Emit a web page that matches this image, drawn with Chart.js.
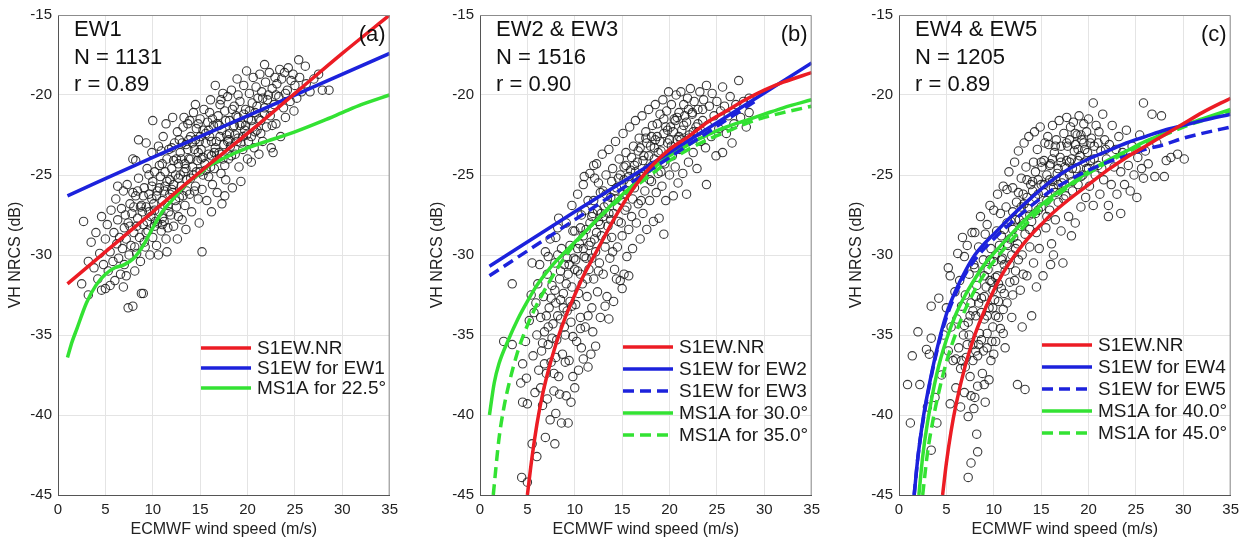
<!DOCTYPE html>
<html>
<head>
<meta charset="utf-8">
<script src="https://cdn.jsdelivr.net/npm/chart.js@4.4.1/dist/chart.umd.min.js"></script>
<style>
  body { margin: 0; background: #fff; width: 1253px; height: 542px; position: relative; overflow: hidden; }
  canvas { position: absolute; top: 0; }
</style>
</head>
<body>
<canvas id="chartA" width="404" height="542" style="left:0px"></canvas>
<canvas id="chartB" width="404" height="542" style="left:422px"></canvas>
<canvas id="chartC" width="404" height="542" style="left:841px"></canvas>
<script>
// axis ticks
const windTicks = [0, 5, 10, 15, 20, 25, 30, 35];
const nrcsTicks = [-45, -40, -35, -30, -25, -20, -15];

// ---- panel (a) EW1 ----
const nrA = [[1,-31.8],[5,-29.8],[10,-27.3],[15,-24.8],[20,-22.4],[25,-19.9],[30,-17.4],[35,-15.0]];
const ew1A = [[1,-26.3],[10,-23.9],[20,-21.3],[35,-17.4]];
const ms225A = [[1,-36.4],[1.5,-35.4],[2,-34.6],[3,-33.0],[4,-31.9],[5,-31.2],[6,-30.8],[7,-30.6],[8,-30.2],[9,-29.4],[10,-28.3],[11,-27.3],[12,-26.6],[13,-25.9],[14,-25.3],[15,-24.9],[16,-24.4],[17,-24.1],[18,-23.8],[20,-23.3],[22,-22.9],[25,-22.3],[28,-21.6],[30,-21.1],[32,-20.6],[35,-20.0]];
const ptsA = [[2.5,-31.8],[2.7,-27.9],[3.2,-30.4],[3.2,-32.5],[3.5,-29.2],[3.8,-30.8],[4.0,-28.6],[4.2,-31.5],[4.4,-29.9],[4.6,-27.6],[4.8,-30.6],[5.0,-32.1],[5.0,-29.0],[5.2,-28.1],[5.3,-31.0],[5.5,-29.8],[5.6,-27.2],[5.8,-30.4],[5.9,-28.6],[6.0,-31.6],[6.1,-26.5],[6.2,-29.3],[6.3,-27.8],[6.4,-30.2],[6.5,-28.9],[6.6,-31.2],[6.7,-27.1],[6.8,-29.6],[6.9,-26.0],[7.0,-28.3],[7.0,-30.6],[7.1,-27.5],[7.2,-29.0],[7.3,-25.6],[7.4,-33.3],[7.4,-28.0],[7.5,-30.0],[7.6,-26.8],[7.7,-29.4],[7.8,-27.4],[7.9,-33.2],[7.9,-24.0],[8.0,-28.6],[8.1,-31.0],[8.2,-24.1],[8.2,-26.3],[8.3,-29.9],[8.4,-27.7],[8.5,-25.2],[8.6,-28.9],[8.7,-30.4],[8.8,-32.4],[8.8,-26.9],[9.0,-32.4],[9.0,-28.1],[9.1,-25.8],[9.2,-29.5],[9.3,-27.0],[9.4,-24.6],[9.5,-28.5],[9.6,-26.2],[9.7,-30.0],[9.8,-27.6],[9.9,-23.6],[10.0,-25.4],[10.0,-28.9],[10.1,-26.8],[10.2,-24.8],[10.3,-27.9],[10.4,-29.4],[10.5,-26.0],[10.6,-23.2],[10.7,-27.3],[10.8,-25.1],[10.9,-28.5],[11.0,-24.3],[11.0,-26.6],[11.1,-22.6],[11.2,-27.9],[11.3,-25.7],[11.4,-29.0],[11.5,-24.0],[11.6,-26.9],[11.7,-23.4],[11.8,-25.3],[11.9,-27.5],[12.0,-24.6],[12.1,-21.4],[12.1,-26.1],[12.2,-28.2],[12.3,-23.0],[12.4,-25.0],[12.5,-27.0],[12.6,-22.3],[12.7,-24.3],[12.8,-26.4],[12.9,-23.6],[13.0,-25.7],[13.1,-27.8],[13.2,-22.0],[13.3,-21.4],[13.3,-24.8],[13.4,-26.9],[13.5,-23.1],[13.6,-25.3],[13.7,-21.8],[13.8,-24.0],[13.9,-26.2],[14.0,-22.6],[14.1,-27.3],[14.2,-24.5],[14.3,-21.1],[14.4,-23.4],[14.5,-20.6],[14.5,-25.7],[14.6,-22.1],[14.7,-24.1],[14.8,-26.5],[14.9,-22.9],[15.0,-21.5],[15.0,-24.8],[15.1,-23.4],[15.2,-29.8],[15.2,-25.9],[15.3,-22.2],[15.4,-20.9],[15.5,-24.3],[15.6,-23.0],[15.7,-26.6],[15.8,-21.7],[15.9,-25.1],[16.0,-22.6],[16.1,-20.3],[16.2,-23.8],[16.3,-25.6],[16.4,-21.9],[16.5,-24.6],[16.6,-19.4],[16.7,-22.9],[16.8,-26.1],[16.9,-21.3],[17.0,-23.6],[17.1,-20.6],[17.2,-24.9],[17.3,-26.8],[17.3,-22.2],[17.4,-19.9],[17.5,-23.1],[17.6,-21.0],[17.7,-25.3],[17.8,-22.5],[17.9,-20.1],[18.0,-24.0],[18.1,-21.6],[18.2,-23.2],[18.3,-19.7],[18.4,-25.8],[18.5,-22.0],[18.6,-20.7],[18.7,-23.7],[18.8,-21.3],[18.9,-19.0],[19.0,-22.7],[19.1,-24.5],[19.2,-20.4],[19.3,-25.4],[19.4,-21.8],[19.5,-23.4],[19.6,-19.4],[19.7,-22.2],[19.8,-20.9],[19.9,-18.5],[20.0,-24.0],[20.1,-21.5],[20.2,-19.9],[20.4,-24.2],[20.4,-22.6],[20.5,-20.5],[20.6,-18.9],[20.7,-23.3],[20.8,-21.1],[20.9,-19.5],[21.0,-22.2],[21.1,-20.2],[21.2,-23.7],[21.3,-18.7],[21.4,-21.6],[21.5,-19.8],[21.6,-22.9],[21.8,-18.1],[21.8,-20.8],[21.9,-19.2],[22.0,-22.0],[22.1,-20.3],[22.3,-18.6],[22.4,-21.3],[22.5,-23.3],[22.6,-19.6],[22.7,-23.6],[22.8,-20.6],[22.9,-18.9],[23.0,-21.8],[23.1,-19.3],[23.3,-20.1],[23.4,-18.4],[23.5,-22.6],[23.6,-19.0],[23.8,-20.8],[23.9,-18.6],[24.0,-21.4],[24.2,-19.7],[24.3,-18.3],[24.5,-20.4],[24.6,-19.1],[24.8,-18.7],[24.9,-21.0],[25.0,-19.4],[25.2,-20.2],[25.4,-17.8],[25.5,-18.9],[25.7,-19.8],[26.1,-18.2],[26.2,-19.3],[26.6,-19.8],[27.0,-19.0],[27.5,-18.7],[27.9,-19.7],[28.6,-19.7],
  [8.0,-27.0],[8.4,-26.0],[8.9,-27.3],[9.1,-29.2],[9.4,-27.9],[9.6,-25.0],[9.9,-26.5],[10.2,-27.2],[10.5,-28.0],[10.7,-24.4],[11.0,-27.7],[11.3,-24.8],[11.6,-28.3],[11.8,-26.2],[12.0,-23.3],[12.2,-25.6],[12.5,-24.0],[12.7,-27.6],[12.9,-25.0],[13.1,-23.0],[13.4,-24.3],[13.6,-26.0],[13.8,-22.8],[14.0,-25.2],[14.2,-23.0],[14.4,-26.0],[14.6,-24.8],[14.8,-21.8],[15.1,-24.0],[15.3,-25.0],[15.6,-22.4],[15.9,-23.7],[16.1,-24.5],[16.3,-21.5],[16.6,-23.3],[16.8,-24.0],[17.0,-21.9],[17.3,-23.7],[17.6,-24.4],[17.9,-22.9],[18.1,-22.4],[18.4,-20.9],[18.7,-22.5],[19.0,-21.4],[19.3,-23.0],[19.6,-21.2],[19.9,-22.5],[20.2,-21.0],[20.6,-22.0],[21.0,-20.7],[21.4,-22.4],[21.8,-21.2],[22.2,-20.0],[22.6,-21.9],[7.2,-31.3],[6.3,-25.7],[5.5,-31.9],[4.6,-32.2],[6.9,-32.0],[10.6,-30.0],[11.5,-29.8],[12.6,-29.0],[13.5,-28.4],[16.2,-27.3],[17.6,-26.3],[14.9,-28.0],[8.5,-22.8],[10.0,-21.6],[9.3,-23.0],[11.4,-21.8],
  [8.3,-28.2],[8.7,-27.0],[9.0,-26.3],[9.3,-28.6],[9.6,-27.3],[9.9,-25.7],[10.2,-28.2],[10.4,-26.3],[10.7,-25.8],[11.0,-28.1],[11.2,-26.0],[11.5,-25.4],[11.7,-27.3],[12.0,-25.9],[12.2,-24.1],[12.4,-26.6],[12.7,-25.2],[13.0,-24.0],[13.2,-26.3],[13.5,-24.6],[13.7,-23.4],[14.0,-24.0],[14.3,-25.0],[14.5,-22.8],[14.8,-23.6],[15.0,-22.6],[15.3,-23.9],[15.6,-24.7],[15.9,-22.2],[16.2,-22.9],[16.5,-23.6],[16.8,-21.8],[17.1,-22.6],[17.4,-24.0],[17.7,-21.6],[18.0,-22.8],[18.3,-23.8],[18.6,-21.9],[18.9,-22.9],[19.2,-21.9],[19.5,-22.6],[19.8,-21.9],[20.1,-22.9],[20.4,-21.6],[20.8,-22.3],[21.2,-21.5],[7.6,-28.2],[7.9,-26.1],[8.1,-29.5],[10.9,-23.5],[12.8,-22.8],[13.9,-21.6],[16.0,-21.1],[17.2,-20.3],[19.0,-20.0],[21.6,-20.2],[23.0,-20.0],[24.0,-19.9]];

// ---- panel (b) EW2 & EW3 ----
const nrB = [[5,-45],[5.5,-42.6],[6,-40.6],[6.5,-39.0],[7,-37.7],[8,-35.6],[9,-33.9],[10,-32.5],[11,-31.2],[12,-30.1],[13,-29.0],[14,-27.9],[15,-26.9],[16,-26.0],[17,-25.2],[18,-24.5],[20,-23.4],[22,-22.6],[24,-21.7],[26,-21.0],[28,-20.3],[30,-19.7],[32,-19.2],[35,-18.6]];
const ew2B = [[1,-30.7],[10,-27.3],[20,-23.6],[35,-18.0]];
const ew3B = [[1,-31.3],[10,-27.8],[20,-23.9],[29,-20.4]];
const ms30B = [[1,-40],[1.5,-38.0],[2,-36.8],[3,-35.3],[4,-34.0],[5,-32.9],[6,-31.9],[7,-31.1],[8,-30.4],[9,-29.8],[10,-29.2],[12,-28.0],[14,-26.8],[16,-25.7],[18,-24.7],[20,-23.8],[22,-23.1],[24,-22.5],[26,-22.0],[28,-21.6],[30,-21.2],[32,-20.8],[35,-20.3]];
const ms35B = [[1.4,-45],[2,-41.5],[2.5,-39.6],[3,-38.2],[4,-36.0],[5,-34.4],[6,-33.1],[7,-32.0],[8,-31.0],[9,-30.1],[10,-29.3],[12,-28.0],[14,-26.9],[16,-25.9],[18,-25.0],[20,-24.1],[22,-23.4],[24,-22.8],[26,-22.3],[28,-21.8],[30,-21.4],[32,-21.1],[35,-20.7]];
const ptsB = [[2.5,-35.4],[3.4,-31.8],[3.4,-35.6],[4.3,-38.0],[4.4,-43.9],[4.5,-36.8],[4.5,-39.2],[4.8,-35.4],[4.9,-37.7],[5.0,-39.3],[5.0,-44.2],[5.2,-34.1],[5.4,-32.5],[5.5,-41.8],[5.6,-36.3],[5.7,-33.6],[5.8,-38.6],[6.0,-42.6],[6.0,-35.0],[6.1,-31.8],[6.2,-37.2],[6.3,-30.6],[6.4,-33.9],[6.5,-36.0],[6.6,-39.4],[6.7,-32.6],[6.8,-34.8],[6.9,-41.4],[6.9,-29.8],[7.0,-37.4],[7.1,-31.2],[7.2,-35.6],[7.3,-33.3],[7.4,-40.3],[7.4,-29.0],[7.5,-36.7],[7.6,-31.9],[7.7,-34.3],[7.8,-38.5],[7.9,-41.8],[7.9,-30.5],[8.0,-33.0],[8.1,-35.3],[8.2,-28.3],[8.3,-27.7],[8.3,-37.6],[8.4,-31.5],[8.5,-34.0],[8.6,-40.5],[8.6,-29.6],[8.7,-36.2],[8.8,-32.4],[8.9,-30.6],[9.0,-35.0],[9.1,-38.8],[9.1,-28.0],[9.2,-33.5],[9.3,-40.5],[9.3,-31.2],[9.4,-36.6],[9.5,-29.4],[9.6,-34.2],[9.7,-26.9],[9.7,-32.0],[9.8,-37.6],[9.9,-30.2],[10.0,-38.3],[10.0,-28.5],[10.1,-33.1],[10.2,-35.4],[10.3,-26.2],[10.3,-31.0],[10.4,-37.2],[10.5,-29.3],[10.6,-33.9],[10.7,-35.8],[10.7,-27.5],[10.8,-31.8],[10.9,-25.6],[11.0,-30.1],[11.1,-34.5],[11.2,-28.4],[11.3,-32.6],[11.4,-37.0],[11.4,-26.6],[11.5,-30.9],[11.6,-24.9],[11.7,-36.2],[11.7,-29.2],[11.8,-33.3],[11.9,-34.8],[11.9,-27.4],[12.0,-31.5],[12.1,-25.2],[12.2,-29.8],[12.3,-24.3],[12.4,-32.3],[12.5,-27.9],[12.6,-30.5],[12.7,-33.9],[12.7,-26.1],[12.8,-28.8],[12.9,-23.7],[13.0,-31.2],[13.1,-27.0],[13.2,-29.5],[13.3,-25.0],[13.4,-32.6],[13.5,-28.2],[13.6,-34.0],[13.6,-23.4],[13.7,-30.2],[13.8,-26.4],[13.9,-28.9],[14.0,-24.6],[14.1,-32.9],[14.1,-27.4],[14.2,-30.9],[14.3,-22.9],[14.4,-25.8],[14.5,-29.5],[14.6,-27.9],[14.7,-24.0],[14.8,-31.6],[14.9,-26.6],[15.0,-32.1],[15.0,-28.8],[15.1,-22.4],[15.2,-31.2],[15.2,-25.3],[15.3,-27.2],[15.4,-23.6],[15.5,-30.1],[15.6,-26.0],[15.7,-31.3],[15.7,-28.4],[15.8,-22.0],[15.9,-24.7],[16.0,-27.6],[16.1,-29.6],[16.2,-23.2],[16.3,-25.8],[16.4,-21.6],[16.5,-28.0],[16.6,-24.2],[16.7,-26.8],[16.8,-22.7],[16.9,-29.0],[17.0,-25.1],[17.1,-21.3],[17.2,-27.4],[17.3,-23.8],[17.4,-26.0],[17.5,-22.3],[17.6,-28.4],[17.7,-24.6],[17.8,-20.9],[17.9,-26.6],[18.0,-23.2],[18.1,-25.4],[18.2,-21.9],[18.3,-27.9],[18.4,-24.0],[18.5,-20.6],[18.6,-26.1],[18.7,-22.6],[18.8,-24.9],[18.9,-27.7],[19.0,-21.2],[19.1,-23.5],[19.2,-25.7],[19.3,-20.3],[19.4,-28.7],[19.4,-22.4],[19.5,-24.3],[19.6,-26.6],[19.7,-21.0],[19.8,-23.0],[19.9,-19.8],[20.0,-25.0],[20.1,-22.0],[20.2,-20.6],[20.3,-23.8],[20.4,-26.3],[20.5,-21.5],[20.6,-24.5],[20.7,-20.0],[20.8,-22.8],[20.9,-25.5],[21.0,-21.1],[21.1,-23.4],[21.2,-19.8],[21.3,-22.2],[21.4,-24.9],[21.5,-20.6],[21.6,-23.0],[21.8,-26.2],[21.8,-21.7],[21.9,-20.2],[22.0,-24.2],[22.1,-22.5],[22.2,-19.6],[22.4,-21.2],[22.5,-23.6],[22.6,-20.4],[22.8,-22.0],[22.9,-24.6],[23.0,-20.9],[23.2,-19.8],[23.3,-22.9],[23.5,-21.6],[23.6,-20.3],[23.8,-23.3],[23.9,-19.4],[23.9,-25.6],[24.0,-21.9],[24.2,-20.7],[24.4,-22.6],[24.5,-19.9],[24.7,-21.3],[24.9,-23.8],[25.0,-20.4],[25.2,-22.1],[25.4,-21.0],[25.6,-19.5],[25.6,-23.6],[25.8,-20.7],[26.0,-22.4],[26.2,-21.3],[26.4,-20.1],[26.6,-23.0],[26.8,-21.8],[27.0,-20.6],[27.3,-19.1],[27.5,-21.4],[27.8,-20.4],[28.1,-22.0],[28.4,-20.2],[28.4,-21.1],
  [7.0,-33.8],[7.5,-32.7],[8.0,-36.4],[8.2,-30.0],[8.5,-32.8],[8.9,-34.5],[9.2,-30.2],[9.5,-32.9],[9.8,-28.5],[10.1,-30.3],[10.4,-32.4],[10.6,-28.3],[10.9,-29.6],[11.1,-27.2],[11.3,-31.5],[11.6,-28.0],[11.8,-30.2],[12.0,-26.6],[12.3,-28.6],[12.5,-31.0],[12.8,-27.4],[13.0,-26.0],[13.3,-29.0],[13.5,-26.8],[13.8,-27.8],[14.0,-29.8],[14.3,-26.5],[14.6,-25.2],[14.9,-28.0],[15.2,-24.5],[15.5,-27.0],[15.8,-25.5],[16.1,-26.5],[16.4,-24.8],[16.7,-23.5],[17.0,-26.6],[17.3,-25.0],[17.6,-23.0],[17.9,-25.3],[18.2,-24.4],[18.5,-22.8],[18.8,-23.6],[19.1,-24.8],[19.4,-21.5],[19.8,-22.2],[20.2,-23.2],[20.6,-21.6],[21.0,-22.6],[21.5,-21.9],[22.0,-20.9],[22.5,-22.3],[23.0,-21.8],[6.4,-38.3],[7.1,-39.0],[7.8,-37.4],[8.4,-38.7],[5.9,-33.0],[6.6,-35.5],[5.5,-30.5],[9.6,-39.2],[8.0,-39.9],[10.9,-36.5],[12.2,-35.7],[13.2,-33.2],[14.4,-31.5],[12.0,-24.4],[11.0,-25.1],[12.5,-25.5],
  [6.8,-36.8],[7.2,-34.5],[7.6,-35.2],[7.9,-32.2],[8.2,-33.8],[8.5,-31.0],[8.8,-33.3],[9.1,-31.8],[9.4,-30.6],[9.7,-33.2],[10.0,-30.9],[10.3,-29.6],[10.6,-31.2],[10.9,-28.8],[11.2,-30.2],[11.5,-29.4],[11.8,-27.6],[12.1,-29.0],[12.4,-27.2],[12.7,-28.1],[13.0,-27.6],[13.3,-26.2],[13.6,-27.4],[13.9,-25.4],[14.2,-26.0],[14.5,-27.0],[14.8,-25.0],[15.1,-26.2],[15.4,-24.4],[15.7,-25.1],[16.0,-23.9],[16.3,-24.4],[16.6,-25.2],[16.9,-23.3],[17.2,-24.1],[17.5,-22.7],[17.8,-23.8],[18.1,-22.6],[18.4,-23.3],[18.7,-21.8],[19.0,-22.9],[19.3,-24.2],[19.6,-22.0],[20.0,-22.8],[20.4,-22.3],[20.8,-21.4],[21.2,-22.8],[21.6,-21.3],[22.0,-22.7],[22.4,-21.1],[23.0,-22.3],[23.5,-20.9],[9.0,-36.7],[9.8,-35.1],[10.6,-34.6],[11.4,-33.8],[7.2,-30.1],[8.0,-28.9]];

// ---- panel (c) EW4 & EW5 ----
const nrC = [[4.6,-45],[5,-43.0],[5.5,-41.0],[6,-39.4],[7,-36.9],[8,-35.0],[9,-33.5],[10,-32.2],[11,-31.1],[12,-30.2],[13,-29.4],[14,-28.7],[15,-28.1],[16,-27.5],[18,-26.5],[20,-25.6],[22,-24.7],[24,-23.9],[26,-23.2],[28,-22.5],[30,-21.8],[32,-21.1],[35,-20.2]];
const ew4C = [[1.6,-45],[2,-42.6],[2.5,-40.4],[3,-38.7],[4,-35.9],[5,-33.7],[6,-32.2],[7,-31.0],[8,-30.0],[9,-29.3],[10,-28.7],[12,-27.5],[14,-26.4],[16,-25.4],[18,-24.6],[20,-24.0],[22,-23.5],[24,-23.0],[26,-22.6],[28,-22.2],[30,-21.9],[32,-21.6],[35,-21.2]];
const ew5C = [[1.6,-45],[2,-42.6],[2.5,-40.5],[3,-38.8],[4,-36.0],[5,-33.9],[6,-32.4],[7,-31.2],[8,-30.3],[9,-29.6],[10,-29.0],[12,-27.9],[14,-26.9],[16,-26.0],[18,-25.3],[20,-24.7],[22,-24.2],[24,-23.8],[26,-23.4],[28,-23.1],[30,-22.7],[32,-22.4],[35,-22.0]];
const ms40C = [[2.1,-45],[2.5,-42.6],[3,-40.5],[4,-37.4],[5,-35.3],[6,-33.7],[7,-32.5],[8,-31.5],[9,-30.6],[10,-29.9],[12,-28.6],[14,-27.4],[16,-26.4],[18,-25.6],[20,-24.8],[22,-24.1],[24,-23.5],[26,-22.9],[28,-22.4],[30,-21.9],[32,-21.5],[35,-20.9]];
const ms45C = [[2.5,-45],[3,-42.4],[3.5,-40.6],[4,-39.1],[5,-36.7],[6,-34.9],[7,-33.4],[8,-32.2],[9,-31.2],[10,-30.4],[12,-29.0],[14,-27.7],[16,-26.6],[18,-25.7],[20,-24.9],[22,-24.2],[24,-23.6],[26,-23.0],[28,-22.5],[30,-22.0],[32,-21.6],[35,-21.0]];
const ptsC = [[0.9,-38.1],[1.2,-40.5],[1.4,-36.3],[2.0,-34.8],[2.2,-38.1],[2.9,-35.9],[3.2,-36.2],[3.4,-35.2],[3.4,-33.2],[3.4,-42.2],[3.8,-38.9],[4.2,-32.7],[4.5,-37.5],[4.7,-35.0],[5.0,-33.3],[5.2,-30.8],[5.4,-31.3],[5.4,-39.3],[5.5,-34.5],[5.7,-36.6],[5.9,-32.3],[6.0,-38.3],[6.1,-34.0],[6.2,-29.9],[6.3,-35.8],[6.4,-31.6],[6.5,-37.1],[6.6,-33.2],[6.7,-28.9],[6.8,-35.0],[6.9,-30.1],[6.9,-38.6],[7.0,-32.5],[7.1,-36.4],[7.2,-29.4],[7.3,-40.1],[7.3,-43.9],[7.3,-34.2],[7.4,-31.2],[7.5,-37.6],[7.6,-43.0],[7.6,-33.0],[7.7,-28.6],[7.8,-35.6],[7.9,-30.6],[8.0,-28.6],[8.0,-38.9],[8.1,-33.8],[8.2,-41.2],[8.2,-31.9],[8.3,-42.3],[8.3,-36.3],[8.4,-29.5],[8.5,-34.9],[8.6,-27.6],[8.7,-32.7],[8.8,-37.4],[8.9,-30.3],[9.0,-38.1],[9.0,-34.0],[9.1,-39.2],[9.1,-28.7],[9.2,-32.0],[9.3,-28.1],[9.3,-35.8],[9.4,-30.9],[9.5,-33.3],[9.6,-26.9],[9.7,-36.6],[9.7,-29.6],[9.8,-31.7],[9.9,-34.5],[10.0,-27.2],[10.0,-30.4],[10.1,-32.8],[10.2,-35.4],[10.3,-28.5],[10.4,-26.2],[10.4,-31.3],[10.5,-33.9],[10.6,-29.4],[10.7,-27.4],[10.8,-32.1],[10.9,-30.2],[11.0,-34.9],[11.0,-25.7],[11.1,-28.4],[11.2,-31.0],[11.3,-27.0],[11.4,-25.9],[11.4,-33.0],[11.5,-29.4],[11.6,-24.8],[11.7,-31.7],[11.8,-27.9],[11.9,-33.9],[11.9,-30.0],[12.0,-25.8],[12.1,-28.9],[12.2,-24.2],[12.3,-31.0],[12.4,-26.7],[12.5,-38.1],[12.5,-29.3],[12.6,-23.5],[12.7,-27.8],[12.8,-32.2],[12.9,-25.2],[13.0,-30.0],[13.1,-26.2],[13.2,-23.0],[13.3,-38.4],[13.3,-28.7],[13.4,-24.5],[13.5,-31.3],[13.6,-27.1],[13.7,-22.6],[13.8,-29.5],[13.9,-25.6],[14.0,-33.8],[14.0,-27.9],[14.2,-24.2],[14.2,-30.5],[14.3,-22.3],[14.4,-26.4],[14.5,-28.6],[14.6,-23.4],[14.7,-25.3],[14.8,-29.6],[14.9,-22.0],[15.0,-27.0],[15.1,-24.5],[15.2,-31.3],[15.3,-26.1],[15.4,-23.0],[15.5,-28.3],[15.6,-25.0],[15.7,-22.6],[15.8,-23.1],[15.9,-27.2],[16.0,-24.3],[16.1,-29.3],[16.2,-21.9],[16.3,-25.8],[16.4,-23.6],[16.5,-27.8],[16.6,-22.8],[16.7,-24.9],[16.8,-26.7],[16.9,-21.6],[17.0,-23.9],[17.1,-28.5],[17.2,-25.5],[17.3,-30.5],[17.4,-22.4],[17.5,-24.5],[17.6,-26.3],[17.7,-21.4],[17.8,-23.2],[17.9,-27.6],[18.0,-25.0],[18.1,-22.0],[18.2,-24.0],[18.3,-26.0],[18.4,-21.7],[18.5,-23.5],[18.6,-28.0],[18.7,-24.6],[18.8,-22.5],[18.9,-25.6],[19.0,-21.3],[19.1,-23.8],[19.2,-27.0],[19.3,-22.8],[19.4,-25.0],[19.5,-21.8],[19.6,-24.2],[19.7,-26.4],[19.8,-22.3],[19.9,-23.6],[20.0,-21.5],[20.1,-25.7],[20.2,-24.1],[20.3,-22.7],[20.5,-20.5],[20.5,-26.9],[20.6,-23.2],[20.7,-25.0],[20.8,-21.9],[21.0,-24.4],[21.1,-22.3],[21.2,-26.2],[21.3,-23.5],[21.5,-21.2],[21.6,-25.3],[21.7,-22.8],[21.9,-24.0],[22.1,-26.9],[22.1,-27.6],[22.2,-23.1],[22.4,-25.6],[22.5,-21.9],[22.7,-24.5],[22.9,-23.4],[23.0,-26.2],[23.2,-22.6],[23.4,-27.4],[23.4,-24.8],[23.6,-23.6],[23.8,-25.6],[24.0,-22.2],[24.2,-24.4],[24.4,-26.0],[24.6,-23.2],[24.8,-25.0],[25.1,-26.4],[25.2,-23.9],[25.4,-22.5],[25.6,-24.6],[25.8,-20.5],[25.8,-25.2],[26.0,-23.5],[26.3,-24.3],[26.7,-21.2],[27.0,-25.1],[27.2,-23.0],[27.7,-21.3],[28.0,-25.1],[28.2,-24.1],[28.7,-23.9],[29.4,-23.7],[30.1,-24.0],
  [7.0,-37.0],[7.4,-35.0],[7.8,-33.5],[8.1,-36.0],[8.4,-33.0],[8.7,-35.3],[9.0,-31.3],[9.3,-33.8],[9.6,-30.3],[9.9,-32.2],[10.2,-30.0],[10.5,-31.8],[10.8,-28.8],[11.1,-30.6],[11.4,-28.0],[11.7,-29.0],[12.0,-27.3],[12.3,-29.6],[12.6,-26.1],[12.9,-28.2],[13.2,-26.8],[13.5,-25.3],[13.8,-27.5],[14.1,-26.0],[14.4,-24.8],[14.7,-27.2],[15.0,-25.6],[15.3,-24.1],[15.6,-26.6],[15.9,-25.3],[16.2,-24.0],[16.5,-26.1],[16.8,-24.6],[17.1,-23.2],[17.4,-25.2],[17.7,-24.1],[18.0,-22.8],[18.3,-24.6],[18.6,-23.1],[18.9,-24.1],[19.2,-22.5],[19.6,-23.4],[20.0,-24.6],[6.5,-39.5],[6.0,-36.5],[8.0,-30.8],[10.7,-34.6],[11.2,-35.8],[9.5,-37.8],[10.0,-36.2],[12.0,-32.5],[13.0,-34.5],[14.5,-32.0],[16.0,-30.6],[5.2,-36.0],[4.0,-40.5],[3.0,-39.5],[7.9,-39.6],[16.3,-30.0],[18.2,-28.8],
  [6.6,-36.6],[6.9,-34.4],[7.2,-35.6],[7.5,-33.8],[7.8,-36.6],[8.1,-32.6],[8.4,-35.6],[8.7,-33.6],[9.0,-32.6],[9.3,-34.9],[9.6,-31.6],[9.9,-33.3],[10.2,-31.4],[10.5,-32.9],[10.8,-30.3],[11.1,-32.4],[11.4,-29.3],[11.7,-30.6],[12.0,-28.4],[12.3,-27.8],[12.6,-30.3],[12.9,-27.0],[13.2,-28.0],[13.5,-26.4],[13.8,-28.4],[14.1,-25.4],[14.4,-27.4],[14.7,-26.2],[15.0,-24.2],[15.3,-25.6],[15.6,-27.6],[15.9,-24.4],[16.2,-25.4],[16.5,-23.2],[16.8,-25.6],[17.1,-24.2],[17.4,-26.5],[17.7,-23.0],[18.0,-24.2],[18.3,-25.4],[18.6,-22.4],[18.9,-23.4],[19.2,-25.1],[19.5,-23.0],[19.8,-24.6],[20.2,-23.0],[20.6,-24.0],[21.0,-23.0],[21.4,-24.6],[21.8,-23.4],[8.9,-36.0],[9.8,-35.4],[8.3,-38.2],[7.6,-38.8],[10.2,-33.8],[11.0,-33.4],[12.2,-31.6],[13.1,-31.2]];

const RED = "#ec1c24";
const BLUE = "#1c22dc";
const GREEN = "#33e233";
const DASH = [11, 6];
const FONT = "'Liberation Sans', Arial, Helvetica, sans-serif";

const panels = [
    { id: "chartA", tag: "(a)", info: ["EW1", "N = 1131", "r = 0.89"], points: ptsA, rowGap: 20, legendTop: 348,
      curves: [
        { name: "S1EW.NR", data: nrA, color: RED },
        { name: "S1EW for EW1", data: ew1A, color: BLUE },
        { name: "MS1A for 22.5°", data: ms225A, color: GREEN }
      ] },
    { id: "chartB", tag: "(b)", info: ["EW2 & EW3", "N = 1516", "r = 0.90"], points: ptsB, rowGap: 22, legendTop: 347,
      curves: [
        { name: "S1EW.NR", data: nrB, color: RED },
        { name: "S1EW for EW2", data: ew2B, color: BLUE },
        { name: "S1EW for EW3", data: ew3B, color: BLUE, dash: DASH },
        { name: "MS1A for 30.0°", data: ms30B, color: GREEN },
        { name: "MS1A for 35.0°", data: ms35B, color: GREEN, dash: DASH }
      ] },
    { id: "chartC", tag: "(c)", info: ["EW4 & EW5", "N = 1205", "r = 0.89"], points: ptsC, rowGap: 22, legendTop: 345,
      curves: [
        { name: "S1EW.NR", data: nrC, color: RED },
        { name: "S1EW for EW4", data: ew4C, color: BLUE },
        { name: "S1EW for EW5", data: ew5C, color: BLUE, dash: DASH },
        { name: "MS1A for 40.0°", data: ms40C, color: GREEN },
        { name: "MS1A for 45.0°", data: ms45C, color: GREEN, dash: DASH }
      ] }
];

const toXY = arr => arr.map(p => ({ x: p[0], y: p[1] }));

// box, text block, panel tag and legend drawn inside the plot area
const panelDecor = {
    id: "panelDecor",
    afterDraw(chart, args, opts) {
        const { ctx, chartArea: a } = chart;
        ctx.save();
        ctx.strokeStyle = "#8c8c8c";
        ctx.lineWidth = 1;
        ctx.beginPath();
        ctx.moveTo(a.left, a.top + 0.5); ctx.lineTo(a.right - 0.5, a.top + 0.5); ctx.lineTo(a.right - 0.5, a.bottom);
        ctx.stroke();

        ctx.fillStyle = "#111";
        ctx.textBaseline = "alphabetic";
        ctx.font = "22px " + FONT;
        ctx.textAlign = "left";
        opts.info.forEach((t, i) => ctx.fillText(t, a.left + 16, a.top + 21 + i * 27.5));
        ctx.textAlign = "right";
        ctx.fillText(opts.tag, a.right - 4, a.top + 26);

        ctx.font = "19px " + FONT;
        ctx.textAlign = "left";
        ctx.textBaseline = "middle";
        opts.curves.forEach((c, i) => {
            const y = opts.legendTop + i * opts.rowGap;
            const x0 = a.left + 143;
            ctx.strokeStyle = c.color;
            ctx.lineWidth = 3.5;
            ctx.setLineDash(c.dash || []);
            ctx.beginPath(); ctx.moveTo(x0, y); ctx.lineTo(x0 + 50, y); ctx.stroke();
            ctx.setLineDash([]);
            ctx.fillStyle = "#1a1a1a";
            ctx.fillText(c.name, x0 + 56, y + 1);
        });
        ctx.restore();
    }
};

function drawPanel(p) {
    const datasets = [{
        type: "scatter",
        data: toXY(p.points),
        pointRadius: 4.2,
        pointBorderWidth: 1.1,
        pointBorderColor: "rgba(25,25,25,0.85)",
        pointBackgroundColor: "rgba(0,0,0,0)",
        order: 10
    }];
    p.curves.forEach(c => datasets.push({
        type: "line",
        data: toXY(c.data),
        borderColor: c.color,
        borderWidth: 3.5,
        borderDash: c.dash || [],
        pointRadius: 0,
        fill: false,
        cubicInterpolationMode: "monotone",
        order: 1
    }));

    new Chart(document.getElementById(p.id), {
        type: "scatter",
        data: { datasets },
        options: {
            responsive: false,
            animation: false,
            events: [],
            layout: { padding: { top: 12, right: 10, left: 0, bottom: 0 } },
            plugins: {
                legend: { display: false },
                tooltip: { enabled: false },
                panelDecor: p
            },
            scales: {
                x: {
                    type: "linear", min: 0, max: 35,
                    afterBuildTicks: s => { s.ticks = windTicks.map(v => ({ value: v })); },
                    afterFit: s => { s.height = 47; },
                    grid: { color: "#e4e4e4", drawTicks: false },
                    border: { color: "#555", width: 1 },
                    ticks: { color: "#222", font: { size: 15, family: FONT }, padding: 6, maxRotation: 0 },
                    title: { display: true, text: "ECMWF wind speed (m/s)", color: "#222",
                             font: { size: 16, family: FONT }, padding: { top: 0, bottom: 3 } }
                },
                y: {
                    type: "linear", min: -45, max: -15,
                    afterBuildTicks: s => { s.ticks = nrcsTicks.map(v => ({ value: v })); },
                    afterFit: s => { s.width = 58; },
                    grid: { color: "#e4e4e4", drawTicks: false },
                    border: { color: "#555", width: 1 },
                    ticks: { color: "#222", font: { size: 15, family: FONT }, padding: 6 },
                    title: { display: true, text: "VH NRCS (dB)", color: "#222",
                             font: { size: 16, family: FONT }, padding: { top: 6, bottom: 0 } }
                }
            }
        },
        plugins: [panelDecor]
    });
}

panels.forEach(drawPanel);
</script>
</body>
</html>
